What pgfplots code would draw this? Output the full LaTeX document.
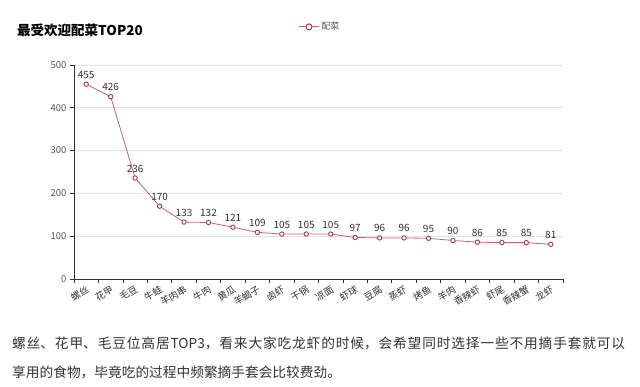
\documentclass[border=0pt]{standalone}
\usepackage{pgfplots}
\pgfplotsset{compat=1.18}
\usepackage{fontspec}
\setmainfont{Noto Sans CJK SC}
\definecolor{ln}{RGB}{188,102,115}
\definecolor{mk}{RGB}{165,60,82}
\definecolor{txt}{RGB}{51,51,51}
\definecolor{lbl}{RGB}{85,85,85}
\definecolor{grd}{RGB}{225,225,225}
\begin{document}
\begin{tikzpicture}[x=1pt,y=1pt]
\fill[white] (0,0) rectangle (640,387);
\path[use as bounding box] (0,0) rectangle (640,387);
\node[anchor=west, inner sep=0, font=\fontsize{13.5}{16}\selectfont\bfseries, text=black] at (17,357) {最受欢迎配菜TOP20};
\begin{axis}[
  at={(74pt,108pt)}, anchor=south west, scale only axis,
  width=489pt, height=214pt,
  xmin=-0.5, xmax=19.5, ymin=0, ymax=500,
  axis lines=left, axis line style={-, draw=txt, line width=0.8pt},
  ytick={0,100,...,500}, ymajorgrids, grid style={grd, line width=0.8pt},
  xtick={0,...,19},
  xticklabels={螺丝,花甲,毛豆,牛蛙,羊肉串,牛肉,黄瓜,羊蝎子,卤虾,干锅,凉面,虾球,豆腐,蒸虾,烤鱼,羊肉,香辣虾,虾尾,香辣蟹,龙虾},
  major x tick style={draw=none},
  minor xtick={-0.5,0.5,...,19.5},
  minor x tick style={draw=txt, line width=0.8pt},
  minor tick length=4pt, major tick length=4pt, tick align=outside,
  y tick style={draw=txt, line width=0.8pt},
  /pgf/number format/assume math mode=true,
  yticklabel style={font=\fontsize{9.5}{10}\selectfont, text=lbl},
  xticklabel style={font=\fontsize{9.5}{10}\selectfont, text=txt, rotate=30, anchor=north east, inner sep=1pt},
  nodes near coords,
  every node near coord/.style={font=\fontsize{10}{10}\selectfont, text=txt, anchor=south, yshift=2pt},
  legend entries={配菜},
  legend style={at={(0.503,1.178)}, anchor=center, draw=none, fill=none, font=\fontsize{9}{9}\selectfont, text=lbl},
  legend image code/.code={\draw[ln, line width=1pt] (0,0) -- (0.7cm,0); \draw[mk, fill=white, line width=1pt] (0.35cm,0) circle (3pt);},
]
\addplot[ln, line width=0.8pt, mark=*, mark size=2.2pt, mark options={fill=white, draw=mk, line width=0.9pt}] coordinates {
(0,455) (1,426) (2,236) (3,170) (4,133) (5,132) (6,121) (7,109) (8,105) (9,105)
(10,105) (11,97) (12,96) (13,96) (14,95) (15,90) (16,86) (17,85) (18,85) (19,81)};
\end{axis}
\node[anchor=west, inner sep=0, text=txt, font=\fontsize{13.7}{16}\selectfont] at (12,44) {\parbox{613pt}{\XeTeXlinebreaklocale "zh"\XeTeXlinebreakskip=0pt plus 5pt\parfillskip=0pt\relax 螺丝、花甲、毛豆位高居TOP3，看来大家吃龙虾的时候，会希望同时选择一些不用摘手套就可以}};
\node[anchor=west, inner sep=0, text=txt, font=\fontsize{13.7}{16}\selectfont] at (12,15) {享用的食物，毕竟吃的过程中频繁摘手套会比较费劲。};
\end{tikzpicture}
\end{document}
